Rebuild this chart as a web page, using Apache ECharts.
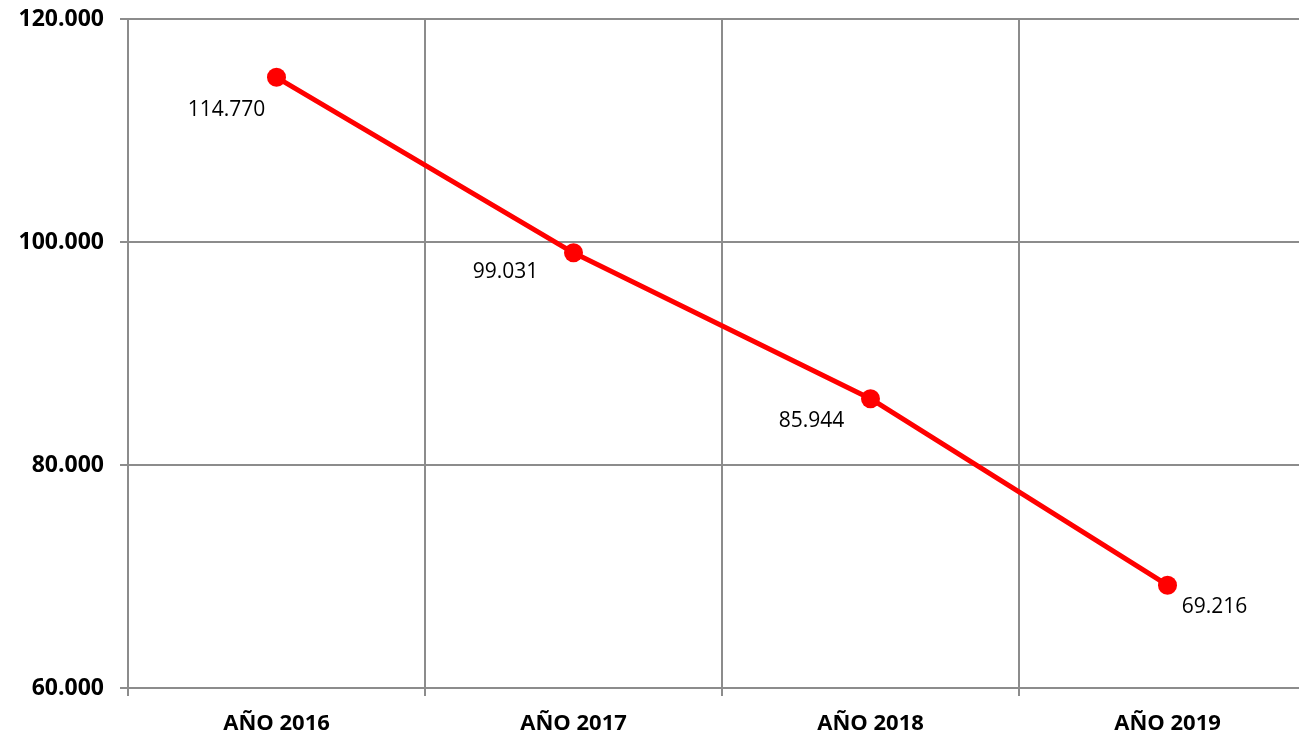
<!DOCTYPE html>
<html>
<head>
<meta charset="utf-8">
<script src="https://cdn.jsdelivr.net/npm/echarts@6/dist/echarts.min.js"></script>
<style>
html,body{margin:0;padding:0;background:#fff;overflow:hidden;}
#chartDiv{width:1316px;height:738px;}
</style>
</head>
<body>
<div id="chartDiv"></div>
<script>
var years = ['AÑO 2016', 'AÑO 2017', 'AÑO 2018', 'AÑO 2019'];
var values = [114770, 99031, 85944, 69216];
var labelOffsets = [[-50, 33], [-68, 19], [-59, 22], [47, 22]];

function fmt(v){
	return String(v).replace(/\B(?=(\d{3})+(?!\d))/g, '.');
}

var lineChart = echarts.init(document.getElementById('chartDiv'));

var seriesData = values.map(function(v, i){
	return {
		value: v,
		label: { offset: labelOffsets[i] }
	};
});

var option = {
    animation: false,
    grid: { left: 128, top: 19, right: 0, bottom: 50 },
    xAxis: {
        type: 'category',
        data: years,
        boundaryGap: true,
        axisLine: { lineStyle: { color: '#8c8c8c', width: 2 } },
        axisTick: { show: true, length: 8, lineStyle: { color: '#8c8c8c', width: 2 } },
        splitLine: { show: true, lineStyle: { color: '#8c8c8c', width: 2 } },
        axisLabel: {
            margin: 25,
            color: '#000',
            fontFamily: 'Open Sans',
            fontWeight: 'bold',
            fontSize: 22
        }
    },
    yAxis: {
        type: 'value',
        min: 60000,
        max: 120000,
        interval: 20000,
        axisLine: { show: true, lineStyle: { color: '#8c8c8c', width: 2 } },
        axisTick: { show: true, length: 8, lineStyle: { color: '#8c8c8c', width: 2 } },
        splitLine: { show: true, lineStyle: { color: '#8c8c8c', width: 2 } },
        axisLabel: {
            margin: 24,
            color: '#000',
            fontFamily: 'Open Sans',
            fontWeight: 'bold',
            fontSize: 23,
            formatter: function(v){ return fmt(v); }
        }
    },
    series: [
        {
            type: 'line',
            data: seriesData,
            symbol: 'circle',
            symbolSize: 19,
            itemStyle: { color: '#ff0000' },
            lineStyle: { color: '#ff0000', width: 5 },
            label: {
                show: true,
                position: 'inside',
                color: '#000',
                fontFamily: 'Open Sans',
                fontSize: 21,
                formatter: function(p){ return fmt(p.value); }
            }
        }
    ]
};

lineChart.setOption(option);
</script>
</body>
</html>
